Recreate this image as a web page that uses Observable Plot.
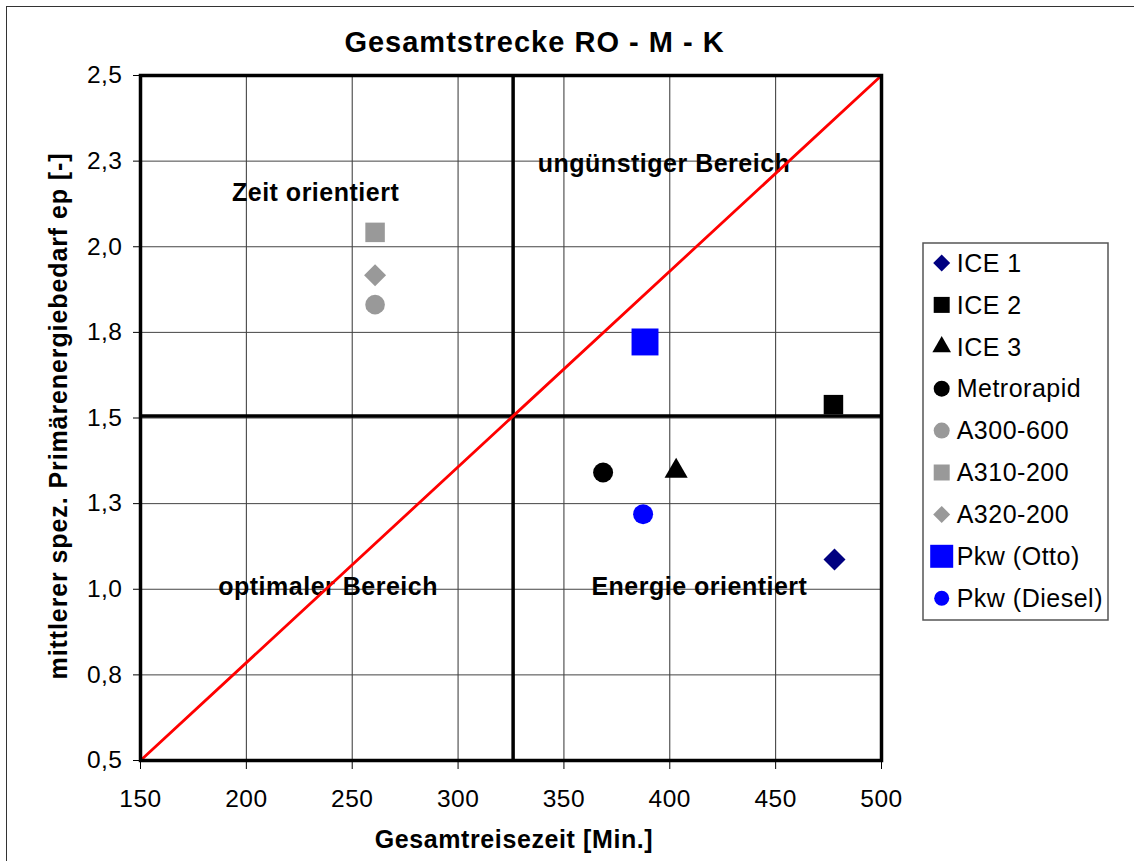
<!DOCTYPE html>
<html>
<head>
<meta charset="utf-8">
<script src="https://cdn.jsdelivr.net/npm/d3@7"></script>
<script src="https://cdn.jsdelivr.net/npm/@observablehq/plot@0.6"></script>
<style>
  html, body { margin: 0; padding: 0; background: #fff; overflow: hidden; }
  #wrap { position: relative; width: 1134px; height: 861px; overflow: hidden; }
  #border { position: absolute; left: 6px; top: 6px; width: 1300px; height: 1000px; border: 1.5px solid #333; box-sizing: border-box; }
  #chart, #overlay { position: absolute; left: 0; top: 0; }
  #overlay { pointer-events: none; }
</style>
</head>
<body>
<div id="wrap">
  <div id="border"></div>
  <div id="chart"></div>
  <svg id="overlay" width="1134" height="861"></svg>
</div>
<script>
// ---- data ----
const titleText = "Gesamtstrecke RO - M - K";
const xTitle = "Gesamtreisezeit [Min.]";
const yTitle = "mittlerer spez. Primärenergiebedarf ep [-]";

const xTicks = [150, 200, 250, 300, 350, 400, 450, 500];
const yTicks = [0.5, 0.75, 1.0, 1.25, 1.5, 1.75, 2.0, 2.25, 2.5];
const yTickLabels = ["0,5", "0,8", "1,0", "1,3", "1,5", "1,8", "2,0", "2,3", "2,5"];

const series = ["ICE 1", "ICE 2", "ICE 3", "Metrorapid", "A300-600", "A310-200", "A320-200", "Pkw (Otto)", "Pkw (Diesel)"];
const zeit = [477.8, 477.3, 403.0, 368.5, 260.8, 260.8, 260.8, 388.3, 387.4];
const ep = [1.087, 1.539, 1.345, 1.341, 1.831, 2.042, 1.917, 1.722, 1.219];

const regionLabels = ["Zeit orientiert", "ungünstiger Bereich", "optimaler Bereich", "Energie orientiert"];
const regionX = [232.7, 397.3, 238.6, 414.0];
const regionY = [2.158, 2.242, 1.007, 1.007];

const dividerX = [326];
const dividerY = [1.506];
const diagonalX = [150, 500];
const diagonalY = [0.5, 2.5];

// ---- styles (kept apart from data) ----
const seriesStyle = {
  "ICE 1":        {symbol: "diamond2", fill: "#000080", r: 9.9,  legendSize: 184},
  "ICE 2":        {symbol: "square",   fill: "#000000", r: 11.0, legendSize: 256},
  "ICE 3":        {symbol: "triangle", fill: "#000000", r: 8.6,  legendSize: 150},
  "Metrorapid":   {symbol: "circle",   fill: "#000000", r: 10,   legendSize: 201},
  "A300-600":     {symbol: "circle",   fill: "#999999", r: 9.8,  legendSize: 201},
  "A310-200":     {symbol: "square",   fill: "#999999", r: 11.0, legendSize: 256},
  "A320-200":     {symbol: "diamond2", fill: "#999999", r: 9.9,  legendSize: 184},
  "Pkw (Otto)":   {symbol: "square",   fill: "#0000FF", r: 15.2, legendSize: 529},
  "Pkw (Diesel)": {symbol: "circle",   fill: "#0000FF", r: 10,   legendSize: 177}
};

const idx = series.map((d, i) => i);

const dotMarks = idx.map(i => {
  const s = seriesStyle[series[i]];
  return Plot.dot([i], {x: j => zeit[j], y: j => ep[j], symbol: s.symbol, fill: s.fill, r: s.r});
});

const chart = Plot.plot({
  width: 1134,
  height: 861,
  marginLeft: 140,
  marginRight: 253,
  marginTop: 75,
  marginBottom: 101,
  style: {fontFamily: "'Liberation Sans', Arial, sans-serif", fontSize: "24.5px", letterSpacing: "0.5px", background: "transparent", color: "#000"},
  x: {domain: [150, 500], ticks: xTicks, tickSize: 9, tickPadding: 20, label: null, tickFormat: d => String(d)},
  y: {domain: [0.5, 2.5], ticks: yTicks, tickSize: 7, tickPadding: 11, label: null, tickFormat: d => yTickLabels[yTicks.indexOf(d)]},
  marks: [
    Plot.ruleX(xTicks, {stroke: "#333", strokeWidth: 1}),
    Plot.ruleY(yTicks, {stroke: "#444", strokeWidth: 1}),
    Plot.text(regionLabels, {x: (d, i) => regionX[i], y: (d, i) => regionY[i], text: d => d, fontWeight: "bold", fontSize: 25, fill: "#000"}),
    Plot.ruleX(dividerX, {stroke: "#000", strokeWidth: 3.5}),
    Plot.ruleY(dividerY, {stroke: "#000", strokeWidth: 3.5}),
    Plot.line(diagonalX.map((x, i) => i), {x: i => diagonalX[i], y: i => diagonalY[i], stroke: "#FF0000", strokeWidth: 2.8}),
    ...dotMarks,
    Plot.frame({stroke: "#000", strokeWidth: 3.5})
  ]
});
document.getElementById("chart").appendChild(chart);

// ---- overlay: title, axis titles, legend ----
const ov = d3.select("#overlay");
const font = "'Liberation Sans', Arial, sans-serif";

ov.append("text")
  .attr("x", 534.5).attr("y", 52)
  .attr("text-anchor", "middle")
  .style("font-family", font).style("font-size", "29px").style("font-weight", "bold").style("letter-spacing", "1px")
  .text(titleText);

ov.append("text")
  .attr("x", 514).attr("y", 848)
  .attr("text-anchor", "middle")
  .style("font-family", font).style("font-size", "25px").style("font-weight", "bold").style("letter-spacing", "0.6px")
  .text(xTitle);

ov.append("text")
  .attr("transform", "translate(67,416) rotate(-90)")
  .attr("text-anchor", "middle")
  .style("font-family", font).style("font-size", "25px").style("font-weight", "bold").style("letter-spacing", "0.9px")
  .text(yTitle);

const legend = ov.append("g").attr("transform", "translate(923,243)");
legend.append("rect")
  .attr("x", 0).attr("y", 0).attr("width", 185).attr("height", 377)
  .attr("fill", "#fff").attr("stroke", "#555").attr("stroke-width", 1.5);

const symMap = {circle: d3.symbolCircle, square: d3.symbolSquare, triangle: d3.symbolTriangle, diamond2: d3.symbolDiamond2};
series.forEach((name, i) => {
  const s = seriesStyle[name];
  const cy = 20 + i * 41.9;
  legend.append("path")
    .attr("transform", `translate(18.7,${cy})`)
    .attr("d", d3.symbol(symMap[s.symbol], s.legendSize)())
    .attr("fill", s.fill);
  legend.append("text")
    .attr("x", 33.7).attr("y", cy).attr("dy", "0.35em")
    .style("font-family", font).style("font-size", "25px").style("letter-spacing", "0.5px")
    .text(name);
});
</script>
</body>
</html>
